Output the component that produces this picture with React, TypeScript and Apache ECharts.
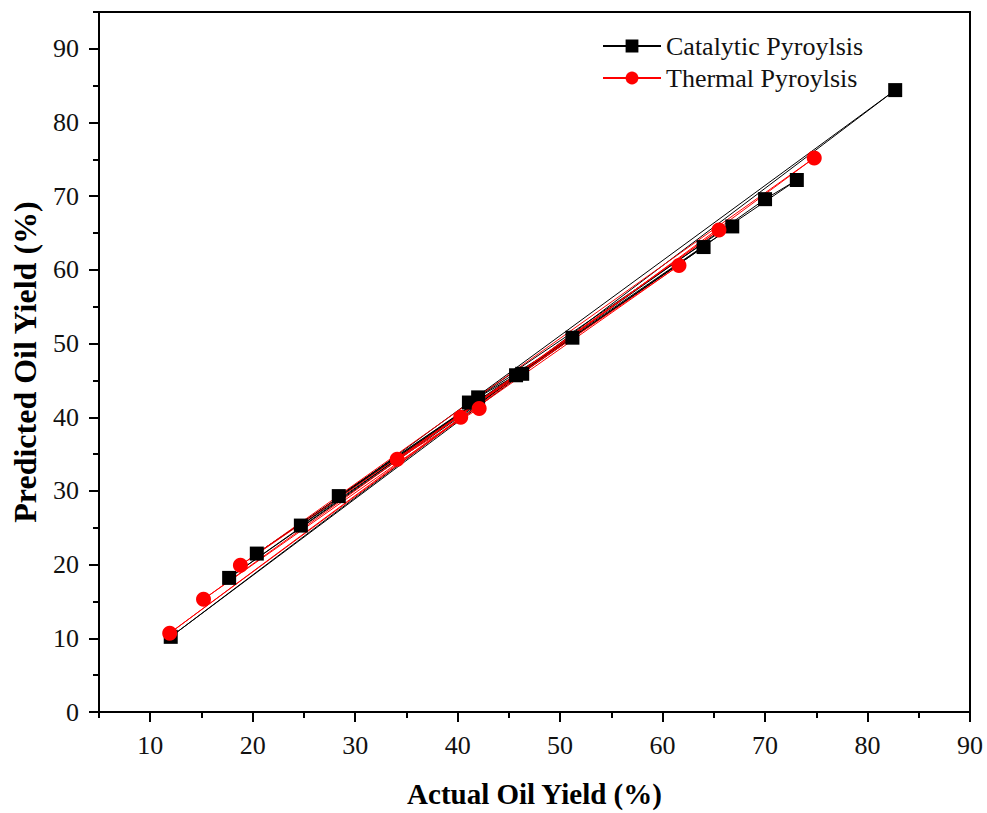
import React, { useEffect, useRef } from "react";
import * as echarts from "echarts";

// Catalytic pyrolysis: [actual, predicted] in data order
const catalyticActual = [46.3, 12.0, 82.7, 24.7, 64.0, 20.4, 51.2, 41.1, 73.1, 70.0, 17.7, 66.8, 28.4, 45.7, 42.0];
const catalyticPredicted = [45.9, 10.2, 84.4, 25.3, 63.1, 21.5, 50.8, 42.0, 72.2, 69.6, 18.2, 65.9, 29.3, 45.7, 42.7];

// Thermal pyrolysis
const thermalActual = [40.3, 11.9, 74.8, 18.8, 61.6, 15.2, 65.5, 34.1, 42.1];
const thermalPredicted = [40.0, 10.7, 75.2, 19.9, 60.6, 15.3, 65.4, 34.3, 41.2];

const xMajorTicks = [10, 20, 30, 40, 50, 60, 70, 80, 90];
const yMajorTicks = [0, 10, 20, 30, 40, 50, 60, 70, 80, 90];

const seriesNames = ["Catalytic Pyroylsis", "Thermal Pyroylsis"];

const FONT = '"Liberation Serif", "Times New Roman", serif';

export default function App() {
  const ref = useRef<HTMLDivElement>(null);

  useEffect(() => {
    if (!ref.current) return;
    const chart = echarts.init(ref.current, null, { renderer: "svg" });
    const cat = catalyticActual.map((x, i) => [x, catalyticPredicted[i]]);
    const th = thermalActual.map((x, i) => [x, thermalPredicted[i]]);

    const majorX = {
      type: "value",
      min: 5,
      max: 90,
      position: "bottom",
      name: "Actual Oil Yield (%)",
      nameLocation: "middle",
      nameGap: 67,
      nameTextStyle: { fontFamily: FONT, fontSize: 29, fontWeight: "bold", color: "#000" },
      axisLine: { show: true, lineStyle: { color: "#000", width: 2 } },
      axisTick: { show: true, customValues: xMajorTicks, length: 10, lineStyle: { color: "#000", width: 2 } },
      axisLabel: { show: true, customValues: xMajorTicks, margin: 20, fontFamily: FONT, fontSize: 26, color: "#111" },
      splitLine: { show: false },
    };
    const minorX = {
      type: "value",
      min: 5,
      max: 90,
      interval: 5,
      position: "bottom",
      axisLine: { show: false },
      axisTick: { show: true, length: 6, lineStyle: { color: "#000", width: 2 } },
      axisLabel: { show: false },
      splitLine: { show: false },
    };
    const majorY = {
      type: "value",
      min: 0,
      max: 95,
      position: "left",
      name: "Predicted Oil Yield (%)",
      nameLocation: "middle",
      nameGap: 58,
      nameTextStyle: { fontFamily: FONT, fontSize: 32, fontWeight: "bold", color: "#000" },
      axisLine: { show: true, lineStyle: { color: "#000", width: 2 } },
      axisTick: { show: true, customValues: yMajorTicks, length: 10, lineStyle: { color: "#000", width: 2 } },
      axisLabel: { show: true, customValues: yMajorTicks, margin: 20, fontFamily: FONT, fontSize: 26, color: "#111" },
      splitLine: { show: false },
    };
    const minorY = {
      type: "value",
      min: 0,
      max: 95,
      interval: 5,
      position: "left",
      axisLine: { show: false },
      axisTick: { show: true, length: 6, lineStyle: { color: "#000", width: 2 } },
      axisLabel: { show: false },
      splitLine: { show: false },
    };

    chart.setOption({
      animation: false,
      backgroundColor: "#fff",
      grid: {
        left: 99,
        right: 17,
        top: 12,
        bottom: 101,
        show: true,
        borderColor: "#000",
        borderWidth: 2,
        backgroundColor: "transparent",
        outerBoundsMode: "none",
        containLabel: false,
      },
      legend: {
        orient: "vertical",
        left: 597,
        top: 28,
        itemWidth: 58,
        itemHeight: 16,
        itemGap: 6,
        textStyle: { fontFamily: FONT, fontSize: 26, color: "#111" },
        data: seriesNames,
      },
      xAxis: [majorX, minorX],
      yAxis: [majorY, minorY],
      series: [
        {
          name: seriesNames[0],
          type: "line",
          xAxisIndex: 0,
          yAxisIndex: 0,
          data: cat,
          symbol: "rect",
          symbolSize: 14,
          lineStyle: { color: "#000", width: 1 },
          itemStyle: { color: "#000" },
        },
        {
          name: seriesNames[1],
          type: "line",
          xAxisIndex: 0,
          yAxisIndex: 0,
          data: th,
          symbol: "circle",
          symbolSize: 15,
          lineStyle: { color: "#ff0000", width: 1 },
          itemStyle: { color: "#ff0000" },
        },
      ],
    });
    return () => chart.dispose();
  }, []);

  return (
    <div
      ref={ref}
      style={{ position: "absolute", left: 0, top: 0, width: 987, height: 813, background: "#fff" }}
    />
  );
}
